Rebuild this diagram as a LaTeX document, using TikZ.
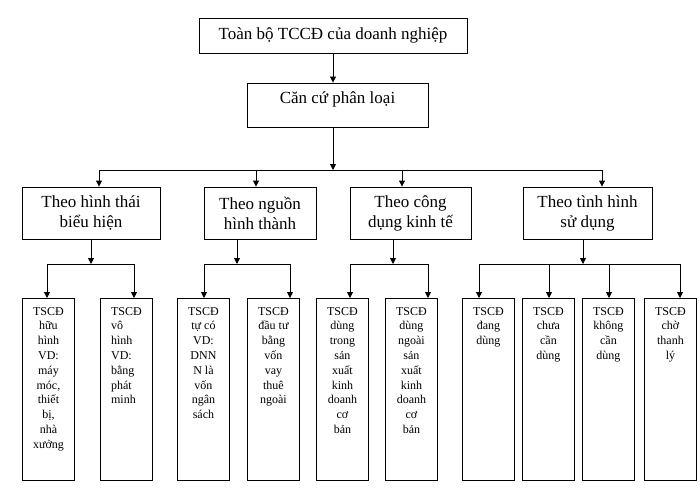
\documentclass[tikz,border=0pt]{standalone}
\usepackage{fontspec}
\setmainfont{Liberation Serif}
\usetikzlibrary{positioning,arrows.meta}

\begin{document}
\begin{tikzpicture}[
    x=1pt, y=-1pt,
    box/.style={draw, rectangle, align=center, inner sep=0pt, line width=0.9pt, font=\fontsize{17}{20}\selectfont},
    leaf/.style={draw, rectangle, inner sep=0pt, line width=0.9pt, minimum width=52pt, minimum height=182pt, anchor=north west},
    leaftext/.style={anchor=north, yshift=-9pt, align=center, inner sep=0pt, font=\fontsize{12}{14.8}\selectfont},
    line/.style={draw, line width=0.9pt},
    arr/.style={draw, line width=0.9pt, -{Triangle[length=6pt,width=6pt]}}
]
    \useasboundingbox (0,0) rectangle (700,492);

    % Nodes
    \node[box, minimum width=268pt, minimum height=35pt] (top) at (333,35.5) {Toàn bộ TCCĐ của doanh nghiệp};
    \node[box, minimum width=181pt, minimum height=44pt, text height=20pt, text depth=24pt] (canc) at (337.5,105) {Căn cứ phân loại};

    \node[box, minimum width=138pt, minimum height=52pt] (b1) at (91,213) {Theo hình thái\\biểu hiện};
    \node[box, minimum width=112pt, minimum height=52pt] (b2) at (260,213) {Theo nguồn\\hình thành};
    \node[box, minimum width=121pt, minimum height=52pt] (b3) at (410.5,213) {Theo công\\dụng kinh tế};
    \node[box, minimum width=129pt, minimum height=52pt] (b4) at (587.5,213) {Theo tình hình\\sử dụng};

    \node[leaf, label={[leaftext]north:{TSCĐ\\hữu\\hình\\VD:\\máy\\móc,\\thiết\\bị,\\nhà\\xưởng}}] (c1) at (22,298) {};
    \node[leaf, label={[leaftext, align=left]north:{TSCĐ\\vô\\hình\\VD:\\bằng\\phát\\minh}}] (c2) at (100,298) {};
    \node[leaf, label={[leaftext]north:{TSCĐ\\tự có\\VD:\\DNN\\N là\\vốn\\ngân\\sách}}] (c3) at (177,298) {};
    \node[leaf, label={[leaftext]north:{TSCĐ\\đầu tư\\bằng\\vốn\\vay\\thuê\\ngoài}}] (c4) at (247,298) {};
    \node[leaf, label={[leaftext]north:{TSCĐ\\dùng\\trong\\sản\\xuất\\kinh\\doanh\\cơ\\bản}}] (c5) at (316,298) {};
    \node[leaf, label={[leaftext]north:{TSCĐ\\dùng\\ngoài\\sản\\xuất\\kinh\\doanh\\cơ\\bản}}] (c6) at (385,298) {};
    \node[leaf, label={[leaftext]north:{TSCĐ\\đang\\dùng}}] (c7) at (462,298) {};
    \node[leaf, label={[leaftext]north:{TSCĐ\\chưa\\cần\\dùng}}] (c8) at (522,298) {};
    \node[leaf, label={[leaftext]north:{TSCĐ\\không\\cần\\dùng}}] (c9) at (582,298) {};
    \node[leaf, label={[leaftext]north:{TSCĐ\\chờ\\thanh\\lý}}] (c10) at (644,298) {};

    % Bus points
    \coordinate (hub) at (333,170);
    \coordinate (t1) at (99,170);
    \coordinate (t2) at (256,170);
    \coordinate (t3) at (402,170);
    \coordinate (t4) at (602,170);
    \coordinate (d1) at (91,264);
    \coordinate (d2) at (237,264);
    \coordinate (d3) at (393,264);
    \coordinate (d4) at (583,264);
    \foreach \n/\x in {1/47,2/134,3/204,4/290,5/350,6/428,7/479,8/549,9/609,10/680}
        \coordinate (k\n) at (\x,264);

    % Connections
    \draw[arr] (top.south) -- (top.south |- canc.north);
    \draw[arr] (canc.south -| hub) -- (hub);
    \draw[line] (t1) -- (t4);
    \foreach \t/\b in {t1/b1,t2/b2,t3/b3,t4/b4}
        \draw[arr] (\t) -- (\t |- \b.north);

    \foreach \d/\b in {d1/b1,d2/b2,d3/b3,d4/b4}
        \draw[arr] (\d |- \b.south) -- (\d);
    \draw[line] (k1) -- (k2);
    \draw[line] (k3) -- (k4);
    \draw[line] (k5) -- (k6);
    \draw[line] (k7) -- (k10);
    \foreach \n in {1,...,10}
        \draw[arr] (k\n) -- (k\n |- c\n.north);
\end{tikzpicture}
\end{document}
